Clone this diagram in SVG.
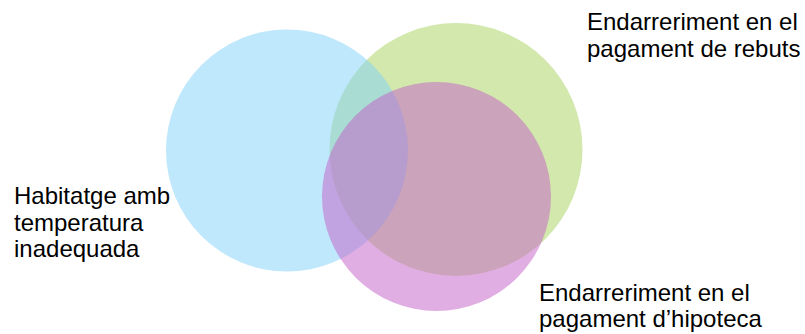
<svg xmlns="http://www.w3.org/2000/svg" width="805" height="334" viewBox="0 0 805 334">
<style>
.c{fill-opacity:0.5}
.t{font-family:"Liberation Sans",Arial,sans-serif;font-size:24px;fill:#000}
</style>
<rect width="805" height="334" fill="#fff"/>
<g id="rebuts"><circle class="c" cx="456" cy="149.5" r="126.5" fill="#A7D15B"/></g>
<g id="temperatura"><circle class="c" cx="287" cy="150.5" r="121" fill="#7FD1F9"/></g>
<g id="hipoteca"><circle class="c" cx="436.5" cy="196.5" r="114.5" fill="#C35DC7"/></g>
<g id="connectors"/>
<g id="labels">
<text class="t" x="14" y="204">Habitatge amb</text>
<text class="t" x="14" y="230.5">temperatura</text>
<text class="t" x="14" y="257">inadequada</text>
<text class="t" x="587" y="30">Endarreriment en el</text>
<text class="t" x="587" y="56.5">pagament de rebuts</text>
<text class="t" x="539" y="300.5">Endarreriment en el</text>
<text class="t" x="539" y="327">pagament d’hipoteca</text>
</g>
</svg>
